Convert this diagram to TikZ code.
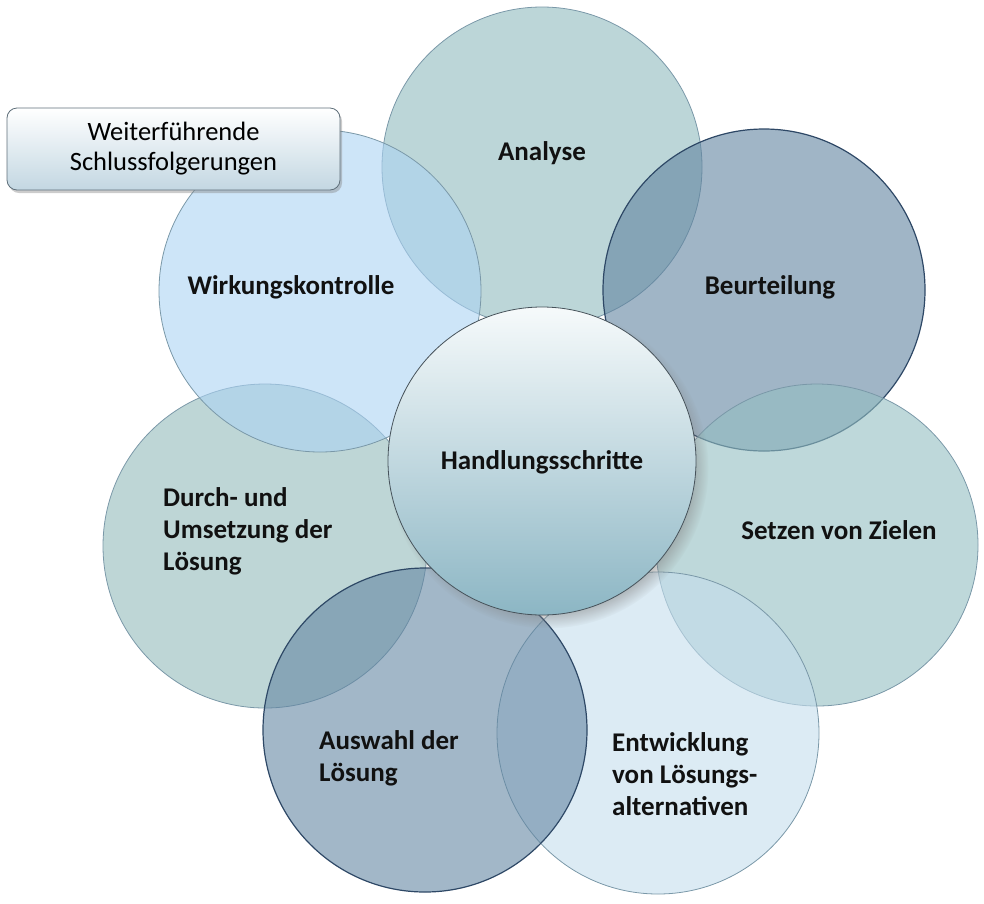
\documentclass[tikz,border=0pt]{standalone}
\usepackage{fontspec}
\setmainfont{Carlito}
\usepackage{xcolor}
\usepackage{tikz}
\usetikzlibrary{shadows,fadings}
\definecolor{durchfill}{RGB}{147,187,187}
\definecolor{wirkfill}{RGB}{172,211,243}
\definecolor{analysefill}{RGB}{143,187,190}
\definecolor{beurtfill}{RGB}{97,132,160}
\definecolor{setzenfill}{RGB}{147,190,193}
\definecolor{entwfill}{RGB}{197,222,237}
\definecolor{auswfill}{RGB}{100,135,163}
\definecolor{petalline}{RGB}{122,152,168}
\definecolor{darkline}{RGB}{46,72,102}
\definecolor{hubtop}{RGB}{246,250,251}
\definecolor{hubmid}{RGB}{210,228,233}
\definecolor{hubbottom}{RGB}{140,182,196}
\definecolor{hubline}{RGB}{70,82,90}
\definecolor{notebottom}{RGB}{195,215,226}
\definecolor{noteline}{RGB}{95,111,122}
\definecolor{labeltext}{RGB}{17,17,17}
\tikzset{petal/.style={circle,inner sep=0pt,fill opacity=0.6,draw=petalline,line width=0.8pt},dark petal/.style={petal,draw=darkline,line width=1.2pt},step label/.style={font=\fontsize{27}{32}\selectfont\bfseries,text=labeltext,inner sep=0pt},multi label/.style={step label,align=left,anchor=west}}

\begin{document}
\begin{tikzpicture}[x=1pt,y=-1pt]
	\path[use as bounding box] (0,0) rectangle (984,903);

	\node[petal,fill=durchfill,minimum size=324pt] (durch) at (265,546) {};
	\node[petal,fill=analysefill,minimum size=320pt] (analyse) at (542,167) {};
	\node[petal,fill=wirkfill,minimum size=322pt] (wirk) at (320,291) {};
	\node[dark petal,fill=beurtfill,minimum size=322pt] (beurt) at (764,290) {};
	\node[petal,fill=setzenfill,minimum size=322pt] (setzen) at (817,545) {};
	\node[petal,fill=entwfill,minimum size=322pt] (entw) at (658,733) {};
	\node[dark petal,fill=auswfill,minimum size=324pt] (ausw) at (425,730) {};

	\node[circle,inner sep=0pt,minimum size=308pt,draw=hubline,line width=0.8pt,
		top color=hubtop,middle color=hubmid,bottom color=hubbottom,
		circular drop shadow={shadow xshift=6pt,shadow yshift=-7pt,shadow scale=1.04,opacity=0.7}] (hub) at (542,461) {};

	\node[rectangle,rounded corners=10pt,draw=noteline,line width=0.8pt,top color=white,bottom color=notebottom,
		minimum width=333pt,minimum height=82pt,align=center,font=\fontsize{26.5}{30}\selectfont,
		drop shadow={shadow xshift=2pt,shadow yshift=-3pt,opacity=0.4}] (note) at (173.5,149) {Weiterführende\\Schlussfolgerungen};

	\node[step label] (analyselabel) at (542,153) {Analyse};
	\node[step label] (beurtlabel) at (770,287) {Beurteilung};
	\node[step label] (setzenlabel) at (839,530) {Setzen von Zielen};
	\node[step label] (wirklabel) at (291,287) {Wirkungskontrolle};
	\node[step label] (hublabel) at (542,462) {Handlungsschritte};
	\node[multi label] (durchlabel) at (163,531) {Durch- und\\Umsetzung der\\Lösung};
	\node[multi label] (auswlabel) at (319,758) {Auswahl der\\Lösung};
	\node[multi label] (entwlabel) at (612,774) {Entwicklung\\von Lösungs-\\alternativen};
\end{tikzpicture}
\end{document}
